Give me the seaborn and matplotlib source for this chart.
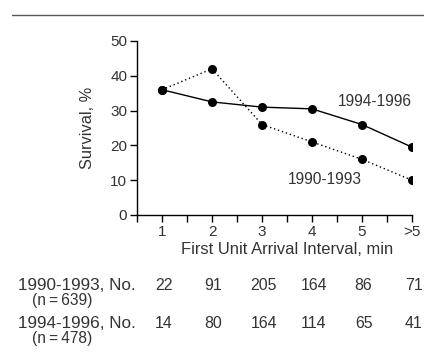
import matplotlib
matplotlib.use("Agg")
import matplotlib.pyplot as plt
import seaborn as sns
import pandas as pd
from matplotlib.lines import Line2D
import matplotlib.transforms as mtrans

categories = ["1", "2", "3", "4", "5", ">5"]
positions = [1, 2, 3, 4, 5, 6]
surv_1990 = [36, 42, 26, 21, 16, 10]
surv_1994 = [36, 32.5, 31, 30.5, 26, 19.5]
n_1990 = [22, 91, 205, 164, 86, 71]
n_1994 = [14, 80, 164, 114, 65, 41]

sns.set_style("ticks")
plt.rcParams["font.family"] = ["Liberation Sans", "DejaVu Sans"]
TXT = "#333333"
FS = 11

fig = plt.figure(figsize=(4.24, 3.6), dpi=100)
W, H = 424, 360
def fx(px): return px / W
def fy(py): return 1 - py / H

ax = fig.add_axes([fx(137), fy(215), fx(412) - fx(137), fy(41) - fy(215)])

df = pd.DataFrame({"x": positions * 2,
                   "y": surv_1990 + surv_1994,
                   "period": ["1990-1993"] * 6 + ["1994-1996"] * 6})
sns.lineplot(data=df[df.period == "1990-1993"], x="x", y="y", ax=ax, color="black",
             linestyle=(0, (1, 2)), linewidth=1, marker="o", markersize=6.5,
             markeredgewidth=0)
sns.lineplot(data=df[df.period == "1994-1996"], x="x", y="y", ax=ax, color="black",
             linestyle="-", linewidth=1, marker="o", markersize=6.5,
             markeredgewidth=0)

ax.set_xlim(0.5, 6)
ax.set_ylim(0, 50)
ax.set_xticks(positions)
ax.set_xticklabels(categories)
ax.set_xticks([0.5, 1.5, 2.5, 3.5, 4.5, 5.5], minor=True)
ax.set_yticks([0, 10, 20, 30, 40, 50])
ax.tick_params(axis="both", which="both", direction="out", length=5, width=1,
               color="black", labelsize=FS, labelcolor=TXT, pad=2)
ax.set_xlabel("")
ax.set_ylabel("")
for s in ["top", "right"]:
    ax.spines[s].set_visible(False)
for s in ["left", "bottom"]:
    ax.spines[s].set_linewidth(1)
    ax.spines[s].set_color("black")
ax.patch.set_alpha(0)

ax.text(5.99, 32.5, "1994-1996", ha="right", va="center", fontsize=11.2, color=TXT)
ax.text(5.0, 10.2, "1990-1993", ha="right", va="center", fontsize=11.2, color=TXT)

fig.text(fx(287), fy(250), "First Unit Arrival Interval, min", ha="center", va="center",
         fontsize=11.9, color=TXT)
fig.text(fx(88), fy(128), "Survival, %", ha="center", va="center", rotation=90,
         fontsize=11.8, color=TXT)

blend = mtrans.blended_transform_factory(ax.transData, fig.transFigure)
for p, a, b in zip(positions, n_1990, n_1994):
    ax.text(p + 0.03, fy(286), str(a), ha="center", va="center", fontsize=11.4,
            color=TXT, transform=blend)
    ax.text(p + 0.03, fy(323), str(b), ha="center", va="center", fontsize=11.4,
            color=TXT, transform=blend)

fig.text(fx(18), fy(286), "1990-1993, No.", ha="left", va="center", fontsize=12.3, color=TXT)
fig.text(fx(32), fy(300), "(n\u2009=\u2009639)", ha="left", va="center", fontsize=11.2, color=TXT)
fig.text(fx(18), fy(323), "1994-1996, No.", ha="left", va="center", fontsize=12.3, color=TXT)
fig.text(fx(32), fy(338), "(n\u2009=\u2009478)", ha="left", va="center", fontsize=11.2, color=TXT)

fig.add_artist(Line2D([fx(12), 1.0], [fy(15), fy(15)], color="#555555", linewidth=1,
                      transform=fig.transFigure))

fig.savefig("out.png", dpi=100)
